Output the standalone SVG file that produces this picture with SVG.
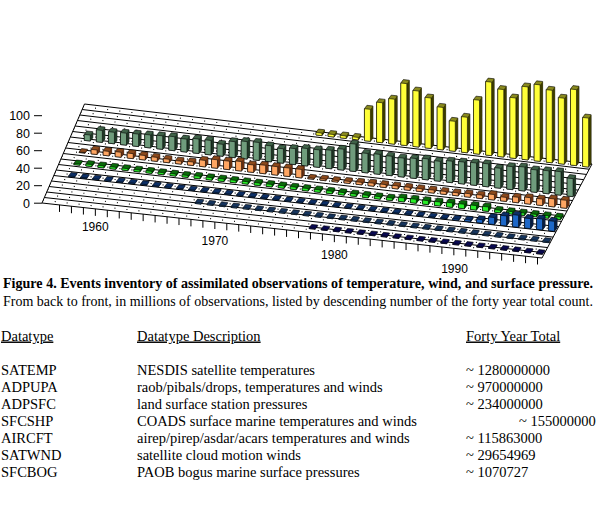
<svg xmlns="http://www.w3.org/2000/svg" width="600" height="517" viewBox="0 0 600 517">
<style>
.floor{fill:none;stroke:#000;stroke-width:1}
.dot{fill:none;stroke:#000;stroke-width:1.1;stroke-dasharray:2 21.9;stroke-dashoffset:.85}
.tick{fill:none;stroke:#000;stroke-width:1}
.ax{font-family:"Liberation Sans",Arial,sans-serif;font-size:12.5px;fill:#000;text-anchor:end}
.yr{font-family:"Liberation Sans",Arial,sans-serif;font-size:12px;fill:#000;text-anchor:middle}
.t{font-family:"Liberation Serif","Times New Roman",serif;font-size:14.5px;fill:#000}
.c{font-family:"Liberation Serif","Times New Roman",serif;font-size:14px;fill:#000}
.b{font-weight:bold}
.u{text-decoration:underline}
.s{stroke:#000;stroke-width:.6;stroke-linejoin:round}
.ys{fill:#8a8a1e}.yd{fill:#3c3c00}.yf{fill:#ffff38}
.gs{fill:#3f6248}.gd{fill:#1f3626}.gf{fill:#6f9c7c}
.os{fill:#8c4a1c}.od{fill:#6a3010}.of{fill:#ffa662}
.ns{fill:#0a6a0a}.nd{fill:#004000}.nf{fill:#28f028}
.as{fill:#0c2f66}.ad{fill:#081d42}.af{fill:#1e68c8}
.ws{fill:#16355e}.wf{fill:#3a74b0}
.bs{fill:#080850}.bf{fill:#2424a0}
</style>
<rect width="600" height="517" fill="#fff"/>
<g id="floor">
<path class="floor" d="M84.5,104L592,164M82.14,109.5L589.22,169.22M79.78,115L586.44,174.44M77.42,120.5L583.67,179.67M75.06,126L580.89,184.89M72.69,131.5L578.11,190.11M70.33,137L575.33,195.33M67.97,142.5L572.56,200.56M65.61,148L569.78,205.78M63.25,153.5L567,211M60.89,159L564.22,216.22M58.53,164.5L561.44,221.44M56.17,170L558.67,226.67M53.81,175.5L555.89,231.89M51.44,181L553.11,237.11M49.08,186.5L550.33,242.33M46.72,192L547.56,247.56M44.36,197.5L544.78,252.78M42,203L542,258M84.5,104L42,203M592,164L542,258"/>
<line class="dot" pathLength="1000" x1="83.32" y1="106.75" x2="590.61" y2="166.61"/>
<line class="dot" pathLength="1000" x1="80.96" y1="112.25" x2="587.83" y2="171.83"/>
<line class="dot" pathLength="1000" x1="78.6" y1="117.75" x2="585.06" y2="177.06"/>
<line class="dot" pathLength="1000" x1="76.24" y1="123.25" x2="582.28" y2="182.28"/>
<line class="dot" pathLength="1000" x1="73.88" y1="128.75" x2="579.5" y2="187.5"/>
<line class="dot" pathLength="1000" x1="71.51" y1="134.25" x2="576.72" y2="192.72"/>
<line class="dot" pathLength="1000" x1="69.15" y1="139.75" x2="573.94" y2="197.94"/>
<line class="dot" pathLength="1000" x1="66.79" y1="145.25" x2="571.17" y2="203.17"/>
<line class="dot" pathLength="1000" x1="64.43" y1="150.75" x2="568.39" y2="208.39"/>
<line class="dot" pathLength="1000" x1="62.07" y1="156.25" x2="565.61" y2="213.61"/>
<line class="dot" pathLength="1000" x1="59.71" y1="161.75" x2="562.83" y2="218.83"/>
<line class="dot" pathLength="1000" x1="57.35" y1="167.25" x2="560.06" y2="224.06"/>
<line class="dot" pathLength="1000" x1="54.99" y1="172.75" x2="557.28" y2="229.28"/>
<line class="dot" pathLength="1000" x1="52.63" y1="178.25" x2="554.5" y2="234.5"/>
<line class="dot" pathLength="1000" x1="50.26" y1="183.75" x2="551.72" y2="239.72"/>
<line class="dot" pathLength="1000" x1="47.9" y1="189.25" x2="548.94" y2="244.94"/>
<line class="dot" pathLength="1000" x1="45.54" y1="194.75" x2="546.17" y2="250.17"/>
<line class="dot" pathLength="1000" x1="43.18" y1="200.25" x2="543.39" y2="255.39"/>
<path class="tick" d="M59.5,204.93v7m11.95-5.686v7m11.95-5.686v7m11.95-5.686v7m11.95-5.686v7m11.95-5.686v7m11.95-5.686v7m11.95-5.686v7m11.95-5.686v7m11.95-5.686v7m11.95-5.686v7m11.95-5.686v7m11.95-5.686v7m11.95-5.686v7m11.95-5.686v7m11.95-5.686v7m11.95-5.686v7m11.95-5.686v7m11.95-5.686v7m11.95-5.686v7m11.95-5.686v7m11.95-5.686v7m11.95-5.686v7m11.95-5.686v7m11.95-5.686v7m11.95-5.686v7m11.95-5.686v7m11.95-5.686v7m11.95-5.686v7m11.95-5.686v7m11.95-5.686v7m11.95-5.686v7m11.95-5.686v7m11.95-5.686v7m11.95-5.686v7m11.95-5.686v7m11.95-5.686v7m11.95-5.686v7m11.95-5.686v7m11.95-5.686v7m11.95-5.686v7"/>
</g>
<g id="axis">
<path class="tick" d="M34,115.7h8M34,133.2h8M34,150.7h8M34,168.2h8M34,185.7h8M34,203.2h8"/>
<text class="ax" x="30" y="120.1">100</text>
<text class="ax" x="30" y="137.6">80</text>
<text class="ax" x="30" y="155.1">60</text>
<text class="ax" x="30" y="172.6">40</text>
<text class="ax" x="30" y="190.1">20</text>
<text class="ax" x="30" y="207.6">0</text>
<text class="yr" x="95.3" y="231">1960</text>
<text class="yr" x="214.9" y="245">1970</text>
<text class="yr" x="334.4" y="258.5">1980</text>
<text class="yr" x="454.5" y="273">1990</text>
</g>
<g id="bars">
<g id="SATEMP">
<path class="ys s" d="M315.97,134.99l6,.65 2.5-3.4v-2.5l-6-.65-2.5 3.4zm12.12,1.43l6,.65 2.5-3.4v-2.5l-6-.65-2.5 3.4zm12.12,1.43l6,.65 2.5-3.4v-2.5l-6-.65-2.5 3.4zm12.12,1.43l6,.65 2.5-3.4v-2.5l-6-.65-2.5 3.4zm12.12,1.43l6,.65 2.5-3.4v-32l-6-.65-2.5 3.4zm12.12,1.43l6,.65 2.5-3.4v-40l-6-.65-2.5 3.4zm12.12,1.43l6,.65 2.5-3.4v-45l-6-.65-2.5 3.4zm12.12,1.43l6,.65 2.5-3.4v-62l-6-.65-2.5 3.4zm12.12,1.43l6,.65 2.5-3.4v-56l-6-.65-2.5 3.4zm12.12,1.43l6,.65 2.5-3.4v-50.5l-6-.65-2.5 3.4zm12.12,1.43l6,.65 2.5-3.4v-42.5l-6-.65-2.5 3.4zm12.12,1.43l6,.65 2.5-3.4v-30l-6-.65-2.5 3.4zm12.12,1.43l6,.65 2.5-3.4v-35.5l-6-.65-2.5 3.4zm12.12,1.43l6,.65 2.5-3.4v-54l-6-.65-2.5 3.4zm12.12,1.43l6,.65 2.5-3.4v-73.5l-6-.65-2.5 3.4zm12.12,1.43l6,.65 2.5-3.4v-67.5l-6-.65-2.5 3.4zm12.12,1.43l6,.65 2.5-3.4v-60.5l-6-.65-2.5 3.4zm12.12,1.43l6,.65 2.5-3.4v-73l-6-.65-2.5 3.4zm12.12,1.43l6,.65 2.5-3.4v-76.5l-6-.65-2.5 3.4zm12.12,1.43l6,.65 2.5-3.4v-72.5l-6-.65-2.5 3.4zm12.12,1.43l6,.65 2.5-3.4v-66l-6-.65-2.5 3.4zm12.12,1.43l6,.65 2.5-3.4v-76l-6-.65-2.5 3.4zm12.12,1.43l6,.65 2.5-3.4v-49l-6-.65-2.5 3.4z"/>
<path class="yd" d="M321.97,135.64l2.5-3.4v-2.5l-2.5 3.4zm12.12,1.43l2.5-3.4v-2.5l-2.5 3.4zm12.12,1.43l2.5-3.4v-2.5l-2.5 3.4zm12.12,1.43l2.5-3.4v-2.5l-2.5 3.4zm12.12,1.43l2.5-3.4v-32l-2.5 3.4zm12.12,1.43l2.5-3.4v-40l-2.5 3.4zm12.12,1.43l2.5-3.4v-45l-2.5 3.4zm12.12,1.43l2.5-3.4v-62l-2.5 3.4zm12.12,1.43l2.5-3.4v-56l-2.5 3.4zm12.12,1.43l2.5-3.4v-50.5l-2.5 3.4zm12.12,1.43l2.5-3.4v-42.5l-2.5 3.4zm12.12,1.43l2.5-3.4v-30l-2.5 3.4zm12.12,1.43l2.5-3.4v-35.5l-2.5 3.4zm12.12,1.43l2.5-3.4v-54l-2.5 3.4zm12.12,1.43l2.5-3.4v-73.5l-2.5 3.4zm12.12,1.43l2.5-3.4v-67.5l-2.5 3.4zm12.12,1.43l2.5-3.4v-60.5l-2.5 3.4zm12.12,1.43l2.5-3.4v-73l-2.5 3.4zm12.12,1.43l2.5-3.4v-76.5l-2.5 3.4zm12.12,1.43l2.5-3.4v-72.5l-2.5 3.4zm12.12,1.43l2.5-3.4v-66l-2.5 3.4zm12.12,1.43l2.5-3.4v-76l-2.5 3.4zm12.12,1.43l2.5-3.4v-49l-2.5 3.4z"/>
<path class="yf s" d="M315.97,134.99l6,.65v-2.5l-6-.65zm12.12,1.43l6,.65v-2.5l-6-.65zm12.12,1.43l6,.65v-2.5l-6-.65zm12.12,1.43l6,.65v-2.5l-6-.65zm12.12,1.43l6,.65v-32l-6-.65zm12.12,1.43l6,.65v-40l-6-.65zm12.12,1.43l6,.65v-45l-6-.65zm12.12,1.43l6,.65v-62l-6-.65zm12.12,1.43l6,.65v-56l-6-.65zm12.12,1.43l6,.65v-50.5l-6-.65zm12.12,1.43l6,.65v-42.5l-6-.65zm12.12,1.43l6,.65v-30l-6-.65zm12.12,1.43l6,.65v-35.5l-6-.65zm12.12,1.43l6,.65v-54l-6-.65zm12.12,1.43l6,.65v-73.5l-6-.65zm12.12,1.43l6,.65v-67.5l-6-.65zm12.12,1.43l6,.65v-60.5l-6-.65zm12.12,1.43l6,.65v-73l-6-.65zm12.12,1.43l6,.65v-76.5l-6-.65zm12.12,1.43l6,.65v-72.5l-6-.65zm12.12,1.43l6,.65v-66l-6-.65zm12.12,1.43l6,.65v-76l-6-.65zm12.12,1.43l6,.65v-49l-6-.65z"/>
</g>
<g id="ADPUPA">
<path class="gs s" d="M84.3,140.39l6,.65 2.5-3.4v-6l-6-.65-2.5 3.4zm12.07,1.39l6,.65 2.5-3.4v-12l-6-.65-2.5 3.4zm12.07,1.39l6,.65 2.5-3.4v-11.5l-6-.65-2.5 3.4zm12.07,1.39l6,.65 2.5-3.4v-12l-6-.65-2.5 3.4zm12.07,1.39l6,.65 2.5-3.4v-12.5l-6-.65-2.5 3.4zm12.07,1.39l6,.65 2.5-3.4v-13l-6-.65-2.5 3.4zm12.07,1.39l6,.65 2.5-3.4v-13.5l-6-.65-2.5 3.4zm12.07,1.39l6,.65 2.5-3.4v-14l-6-.65-2.5 3.4zm12.07,1.39l6,.65 2.5-3.4v-13l-6-.65-2.5 3.4zm12.07,1.39l6,.65 2.5-3.4v-14.5l-6-.65-2.5 3.4zm12.07,1.39l6,.65 2.5-3.4v-14.5l-6-.65-2.5 3.4zm12.07,1.39l6,.65 2.5-3.4v-12l-6-.65-2.5 3.4zm12.07,1.39l6,.65 2.5-3.4v-16l-6-.65-2.5 3.4zm12.07,1.39l6,.65 2.5-3.4v-17.5l-6-.65-2.5 3.4zm12.07,1.39l6,.65 2.5-3.4v-18l-6-.65-2.5 3.4zm12.07,1.39l6,.65 2.5-3.4v-16l-6-.65-2.5 3.4zm12.07,1.39l6,.65 2.5-3.4v-14.5l-6-.65-2.5 3.4zm12.07,1.39l6,.65 2.5-3.4v-16l-6-.65-2.5 3.4zm12.07,1.39l6,.65 2.5-3.4v-17.5l-6-.65-2.5 3.4zm12.07,1.39l6,.65 2.5-3.4v-17.5l-6-.65-2.5 3.4zm12.07,1.39l6,.65 2.5-3.4v-18.5l-6-.65-2.5 3.4zm12.07,1.39l6,.65 2.5-3.4v-21l-6-.65-2.5 3.4zm12.07,1.39l6,.65 2.5-3.4v-27.5l-6-.65-2.5 3.4zm12.07,1.39l6,.65 2.5-3.4v-19.5l-6-.65-2.5 3.4zm12.07,1.39l6,.65 2.5-3.4v-20l-6-.65-2.5 3.4zm12.07,1.39l6,.65 2.5-3.4v-19.5l-6-.65-2.5 3.4zm12.07,1.39l6,.65 2.5-3.4v-19l-6-.65-2.5 3.4zm12.07,1.39l6,.65 2.5-3.4v-20l-6-.65-2.5 3.4zm12.07,1.39l6,.65 2.5-3.4v-21l-6-.65-2.5 3.4zm12.07,1.39l6,.65 2.5-3.4v-20l-6-.65-2.5 3.4zm12.07,1.39l6,.65 2.5-3.4v-21.5l-6-.65-2.5 3.4zm12.07,1.39l6,.65 2.5-3.4v-22l-6-.65-2.5 3.4zm12.07,1.39l6,.65 2.5-3.4v-22.5l-6-.65-2.5 3.4zm12.07,1.39l6,.65 2.5-3.4v-23l-6-.65-2.5 3.4zm12.07,1.39l6,.65 2.5-3.4v-20l-6-.65-2.5 3.4zm12.07,1.39l6,.65 2.5-3.4v-23l-6-.65-2.5 3.4zm12.07,1.39l6,.65 2.5-3.4v-24l-6-.65-2.5 3.4zm12.07,1.39l6,.65 2.5-3.4v-22.5l-6-.65-2.5 3.4zm12.07,1.39l6,.65 2.5-3.4v-23l-6-.65-2.5 3.4zm12.07,1.39l6,.65 2.5-3.4v-23.5l-6-.65-2.5 3.4zm12.07,1.39l6,.65 2.5-3.4v-18l-6-.65-2.5 3.4z"/>
<path class="gd" d="M90.3,141.04l2.5-3.4v-6l-2.5 3.4zm12.07,1.39l2.5-3.4v-12l-2.5 3.4zm12.07,1.39l2.5-3.4v-11.5l-2.5 3.4zm12.07,1.39l2.5-3.4v-12l-2.5 3.4zm12.07,1.39l2.5-3.4v-12.5l-2.5 3.4zm12.07,1.39l2.5-3.4v-13l-2.5 3.4zm12.07,1.39l2.5-3.4v-13.5l-2.5 3.4zm12.07,1.39l2.5-3.4v-14l-2.5 3.4zm12.07,1.39l2.5-3.4v-13l-2.5 3.4zm12.07,1.39l2.5-3.4v-14.5l-2.5 3.4zm12.07,1.39l2.5-3.4v-14.5l-2.5 3.4zm12.07,1.39l2.5-3.4v-12l-2.5 3.4zm12.07,1.39l2.5-3.4v-16l-2.5 3.4zm12.07,1.39l2.5-3.4v-17.5l-2.5 3.4zm12.07,1.39l2.5-3.4v-18l-2.5 3.4zm12.07,1.39l2.5-3.4v-16l-2.5 3.4zm12.07,1.39l2.5-3.4v-14.5l-2.5 3.4zm12.07,1.39l2.5-3.4v-16l-2.5 3.4zm12.07,1.39l2.5-3.4v-17.5l-2.5 3.4zm12.07,1.39l2.5-3.4v-17.5l-2.5 3.4zm12.07,1.39l2.5-3.4v-18.5l-2.5 3.4zm12.07,1.39l2.5-3.4v-21l-2.5 3.4zm12.07,1.39l2.5-3.4v-27.5l-2.5 3.4zm12.07,1.39l2.5-3.4v-19.5l-2.5 3.4zm12.07,1.39l2.5-3.4v-20l-2.5 3.4zm12.07,1.39l2.5-3.4v-19.5l-2.5 3.4zm12.07,1.39l2.5-3.4v-19l-2.5 3.4zm12.07,1.39l2.5-3.4v-20l-2.5 3.4zm12.07,1.39l2.5-3.4v-21l-2.5 3.4zm12.07,1.39l2.5-3.4v-20l-2.5 3.4zm12.07,1.39l2.5-3.4v-21.5l-2.5 3.4zm12.07,1.39l2.5-3.4v-22l-2.5 3.4zm12.07,1.39l2.5-3.4v-22.5l-2.5 3.4zm12.07,1.39l2.5-3.4v-23l-2.5 3.4zm12.07,1.39l2.5-3.4v-20l-2.5 3.4zm12.07,1.39l2.5-3.4v-23l-2.5 3.4zm12.07,1.39l2.5-3.4v-24l-2.5 3.4zm12.07,1.39l2.5-3.4v-22.5l-2.5 3.4zm12.07,1.39l2.5-3.4v-23l-2.5 3.4zm12.07,1.39l2.5-3.4v-23.5l-2.5 3.4zm12.07,1.39l2.5-3.4v-18l-2.5 3.4z"/>
<path class="gf s" d="M84.3,140.39l6,.65v-6l-6-.65zm12.07,1.39l6,.65v-12l-6-.65zm12.07,1.39l6,.65v-11.5l-6-.65zm12.07,1.39l6,.65v-12l-6-.65zm12.07,1.39l6,.65v-12.5l-6-.65zm12.07,1.39l6,.65v-13l-6-.65zm12.07,1.39l6,.65v-13.5l-6-.65zm12.07,1.39l6,.65v-14l-6-.65zm12.07,1.39l6,.65v-13l-6-.65zm12.07,1.39l6,.65v-14.5l-6-.65zm12.07,1.39l6,.65v-14.5l-6-.65zm12.07,1.39l6,.65v-12l-6-.65zm12.07,1.39l6,.65v-16l-6-.65zm12.07,1.39l6,.65v-17.5l-6-.65zm12.07,1.39l6,.65v-18l-6-.65zm12.07,1.39l6,.65v-16l-6-.65zm12.07,1.39l6,.65v-14.5l-6-.65zm12.07,1.39l6,.65v-16l-6-.65zm12.07,1.39l6,.65v-17.5l-6-.65zm12.07,1.39l6,.65v-17.5l-6-.65zm12.07,1.39l6,.65v-18.5l-6-.65zm12.07,1.39l6,.65v-21l-6-.65zm12.07,1.39l6,.65v-27.5l-6-.65zm12.07,1.39l6,.65v-19.5l-6-.65zm12.07,1.39l6,.65v-20l-6-.65zm12.07,1.39l6,.65v-19.5l-6-.65zm12.07,1.39l6,.65v-19l-6-.65zm12.07,1.39l6,.65v-20l-6-.65zm12.07,1.39l6,.65v-21l-6-.65zm12.07,1.39l6,.65v-20l-6-.65zm12.07,1.39l6,.65v-21.5l-6-.65zm12.07,1.39l6,.65v-22l-6-.65zm12.07,1.39l6,.65v-22.5l-6-.65zm12.07,1.39l6,.65v-23l-6-.65zm12.07,1.39l6,.65v-20l-6-.65zm12.07,1.39l6,.65v-23l-6-.65zm12.07,1.39l6,.65v-24l-6-.65zm12.07,1.39l6,.65v-22.5l-6-.65zm12.07,1.39l6,.65v-23l-6-.65zm12.07,1.39l6,.65v-23.5l-6-.65zm12.07,1.39l6,.65v-18l-6-.65z"/>
</g>
<g id="ADPSFC">
<path class="os s" d="M79.06,152.5l6,.65 2.5-3.4v-.5l-6-.65-2.5 3.4zm12.04,1.38l6,.65 2.5-3.4v-4.5l-6-.65-2.5 3.4zm12.04,1.38l6,.65 2.5-3.4v-4.5l-6-.65-2.5 3.4zm12.04,1.38l6,.65 2.5-3.4v-5l-6-.65-2.5 3.4zm12.04,1.38l6,.65 2.5-3.4v-5l-6-.65-2.5 3.4zm12.04,1.38l6,.65 2.5-3.4v-4.5l-6-.65-2.5 3.4zm12.04,1.38l6,.65 2.5-3.4v-4l-6-.65-2.5 3.4zm12.04,1.38l6,.65 2.5-3.4v-3.5l-6-.65-2.5 3.4zm12.04,1.38l6,.65 2.5-3.4v-3l-6-.65-2.5 3.4zm12.04,1.38l6,.65 2.5-3.4v-3.5l-6-.65-2.5 3.4zm12.04,1.38l6,.65 2.5-3.4v-6.5l-6-.65-2.5 3.4zm12.04,1.38l6,.65 2.5-3.4v-8.5l-6-.65-2.5 3.4zm12.04,1.38l6,.65 2.5-3.4v-8.5l-6-.65-2.5 3.4zm12.04,1.38l6,.65 2.5-3.4v-9.5l-6-.65-2.5 3.4zm12.04,1.38l6,.65 2.5-3.4v-7.5l-6-.65-2.5 3.4zm12.04,1.38l6,.65 2.5-3.4v-8.5l-6-.65-2.5 3.4zm12.04,1.38l6,.65 2.5-3.4v-8.5l-6-.65-2.5 3.4zm12.04,1.38l6,.65 2.5-3.4v-8.5l-6-.65-2.5 3.4zm12.04,1.38l6,.65 2.5-3.4v-8.5l-6-.65-2.5 3.4zm12.04,1.38l6,.65 2.5-3.4v-1l-6-.65-2.5 3.4zm12.04,1.38l6,.65 2.5-3.4v-1.5l-6-.65-2.5 3.4zm12.04,1.38l6,.65 2.5-3.4v-1.5l-6-.65-2.5 3.4zm12.04,1.38l6,.65 2.5-3.4v-2l-6-.65-2.5 3.4zm12.04,1.38l6,.65 2.5-3.4v-2.5l-6-.65-2.5 3.4zm12.04,1.38l6,.65 2.5-3.4v-3l-6-.65-2.5 3.4zm12.04,1.38l6,.65 2.5-3.4v-3l-6-.65-2.5 3.4zm12.04,1.38l6,.65 2.5-3.4v-3l-6-.65-2.5 3.4zm12.04,1.38l6,.65 2.5-3.4v-3l-6-.65-2.5 3.4zm12.04,1.38l6,.65 2.5-3.4v-3l-6-.65-2.5 3.4zm12.04,1.38l6,.65 2.5-3.4v-3l-6-.65-2.5 3.4zm12.04,1.38l6,.65 2.5-3.4v-3l-6-.65-2.5 3.4zm12.04,1.38l6,.65 2.5-3.4v-3l-6-.65-2.5 3.4zm12.04,1.38l6,.65 2.5-3.4v-3.5l-6-.65-2.5 3.4zm12.04,1.38l6,.65 2.5-3.4v-3.5l-6-.65-2.5 3.4zm12.04,1.38l6,.65 2.5-3.4v-5.5l-6-.65-2.5 3.4zm12.04,1.38l6,.65 2.5-3.4v-4l-6-.65-2.5 3.4zm12.04,1.38l6,.65 2.5-3.4v-5.5l-6-.65-2.5 3.4zm12.04,1.38l6,.65 2.5-3.4v-6.5l-6-.65-2.5 3.4zm12.04,1.38l6,.65 2.5-3.4v-6.5l-6-.65-2.5 3.4zm12.04,1.38l6,.65 2.5-3.4v-8l-6-.65-2.5 3.4zm12.04,1.38l6,.65 2.5-3.4v-8l-6-.65-2.5 3.4z"/>
<path class="od" d="M85.06,153.15l2.5-3.4v-.5l-2.5 3.4zm12.04,1.38l2.5-3.4v-4.5l-2.5 3.4zm12.04,1.38l2.5-3.4v-4.5l-2.5 3.4zm12.04,1.38l2.5-3.4v-5l-2.5 3.4zm12.04,1.38l2.5-3.4v-5l-2.5 3.4zm12.04,1.38l2.5-3.4v-4.5l-2.5 3.4zm12.04,1.38l2.5-3.4v-4l-2.5 3.4zm12.04,1.38l2.5-3.4v-3.5l-2.5 3.4zm12.04,1.38l2.5-3.4v-3l-2.5 3.4zm12.04,1.38l2.5-3.4v-3.5l-2.5 3.4zm12.04,1.38l2.5-3.4v-6.5l-2.5 3.4zm12.04,1.38l2.5-3.4v-8.5l-2.5 3.4zm12.04,1.38l2.5-3.4v-8.5l-2.5 3.4zm12.04,1.38l2.5-3.4v-9.5l-2.5 3.4zm12.04,1.38l2.5-3.4v-7.5l-2.5 3.4zm12.04,1.38l2.5-3.4v-8.5l-2.5 3.4zm12.04,1.38l2.5-3.4v-8.5l-2.5 3.4zm12.04,1.38l2.5-3.4v-8.5l-2.5 3.4zm12.04,1.38l2.5-3.4v-8.5l-2.5 3.4zm12.04,1.38l2.5-3.4v-1l-2.5 3.4zm12.04,1.38l2.5-3.4v-1.5l-2.5 3.4zm12.04,1.38l2.5-3.4v-1.5l-2.5 3.4zm12.04,1.38l2.5-3.4v-2l-2.5 3.4zm12.04,1.38l2.5-3.4v-2.5l-2.5 3.4zm12.04,1.38l2.5-3.4v-3l-2.5 3.4zm12.04,1.38l2.5-3.4v-3l-2.5 3.4zm12.04,1.38l2.5-3.4v-3l-2.5 3.4zm12.04,1.38l2.5-3.4v-3l-2.5 3.4zm12.04,1.38l2.5-3.4v-3l-2.5 3.4zm12.04,1.38l2.5-3.4v-3l-2.5 3.4zm12.04,1.38l2.5-3.4v-3l-2.5 3.4zm12.04,1.38l2.5-3.4v-3l-2.5 3.4zm12.04,1.38l2.5-3.4v-3.5l-2.5 3.4zm12.04,1.38l2.5-3.4v-3.5l-2.5 3.4zm12.04,1.38l2.5-3.4v-5.5l-2.5 3.4zm12.04,1.38l2.5-3.4v-4l-2.5 3.4zm12.04,1.38l2.5-3.4v-5.5l-2.5 3.4zm12.04,1.38l2.5-3.4v-6.5l-2.5 3.4zm12.04,1.38l2.5-3.4v-6.5l-2.5 3.4zm12.04,1.38l2.5-3.4v-8l-2.5 3.4zm12.04,1.38l2.5-3.4v-8l-2.5 3.4z"/>
<path class="of s" d="M79.06,152.5l6,.65v-.5l-6-.65zm12.04,1.38l6,.65v-4.5l-6-.65zm12.04,1.38l6,.65v-4.5l-6-.65zm12.04,1.38l6,.65v-5l-6-.65zm12.04,1.38l6,.65v-5l-6-.65zm12.04,1.38l6,.65v-4.5l-6-.65zm12.04,1.38l6,.65v-4l-6-.65zm12.04,1.38l6,.65v-3.5l-6-.65zm12.04,1.38l6,.65v-3l-6-.65zm12.04,1.38l6,.65v-3.5l-6-.65zm12.04,1.38l6,.65v-6.5l-6-.65zm12.04,1.38l6,.65v-8.5l-6-.65zm12.04,1.38l6,.65v-8.5l-6-.65zm12.04,1.38l6,.65v-9.5l-6-.65zm12.04,1.38l6,.65v-7.5l-6-.65zm12.04,1.38l6,.65v-8.5l-6-.65zm12.04,1.38l6,.65v-8.5l-6-.65zm12.04,1.38l6,.65v-8.5l-6-.65zm12.04,1.38l6,.65v-8.5l-6-.65zm12.04,1.38l6,.65v-1l-6-.65zm12.04,1.38l6,.65v-1.5l-6-.65zm12.04,1.38l6,.65v-1.5l-6-.65zm12.04,1.38l6,.65v-2l-6-.65zm12.04,1.38l6,.65v-2.5l-6-.65zm12.04,1.38l6,.65v-3l-6-.65zm12.04,1.38l6,.65v-3l-6-.65zm12.04,1.38l6,.65v-3l-6-.65zm12.04,1.38l6,.65v-3l-6-.65zm12.04,1.38l6,.65v-3l-6-.65zm12.04,1.38l6,.65v-3l-6-.65zm12.04,1.38l6,.65v-3l-6-.65zm12.04,1.38l6,.65v-3l-6-.65zm12.04,1.38l6,.65v-3.5l-6-.65zm12.04,1.38l6,.65v-3.5l-6-.65zm12.04,1.38l6,.65v-5.5l-6-.65zm12.04,1.38l6,.65v-4l-6-.65zm12.04,1.38l6,.65v-5.5l-6-.65zm12.04,1.38l6,.65v-6.5l-6-.65zm12.04,1.38l6,.65v-6.5l-6-.65zm12.04,1.38l6,.65v-8l-6-.65zm12.04,1.38l6,.65v-8l-6-.65z"/>
</g>
<g id="SFCSHP">
<path class="ns s" d="M73.82,164.6l6,.65 2.5-3.4v-1.2l-6-.65-2.5 3.4zm12.02,1.36l6,.65 2.5-3.4v-2l-6-.65-2.5 3.4zm12.02,1.36l6,.65 2.5-3.4v-2l-6-.65-2.5 3.4zm12.02,1.36l6,.65 2.5-3.4v-2l-6-.65-2.5 3.4zm12.02,1.36l6,.65 2.5-3.4v-2l-6-.65-2.5 3.4zm12.02,1.36l6,.65 2.5-3.4v-2l-6-.65-2.5 3.4zm12.02,1.36l6,.65 2.5-3.4v-2l-6-.65-2.5 3.4zm12.02,1.36l6,.65 2.5-3.4v-2l-6-.65-2.5 3.4zm12.02,1.36l6,.65 2.5-3.4v-2l-6-.65-2.5 3.4zm12.02,1.36l6,.65 2.5-3.4v-2l-6-.65-2.5 3.4zm12.02,1.36l6,.65 2.5-3.4v-2.5l-6-.65-2.5 3.4zm12.02,1.36l6,.65 2.5-3.4v-2.5l-6-.65-2.5 3.4zm12.02,1.36l6,.65 2.5-3.4v-2.5l-6-.65-2.5 3.4zm12.02,1.36l6,.65 2.5-3.4v-2.5l-6-.65-2.5 3.4zm12.02,1.36l6,.65 2.5-3.4v-2.5l-6-.65-2.5 3.4zm12.02,1.36l6,.65 2.5-3.4v-2.5l-6-.65-2.5 3.4zm12.02,1.36l6,.65 2.5-3.4v-2.5l-6-.65-2.5 3.4zm12.02,1.36l6,.65 2.5-3.4v-2.5l-6-.65-2.5 3.4zm12.02,1.36l6,.65 2.5-3.4v-2.5l-6-.65-2.5 3.4zm12.02,1.36l6,.65 2.5-3.4v-2.5l-6-.65-2.5 3.4zm12.02,1.36l6,.65 2.5-3.4v-2.5l-6-.65-2.5 3.4zm12.02,1.36l6,.65 2.5-3.4v-2.5l-6-.65-2.5 3.4zm12.02,1.36l6,.65 2.5-3.4v-2.5l-6-.65-2.5 3.4zm12.02,1.36l6,.65 2.5-3.4v-2.5l-6-.65-2.5 3.4zm12.02,1.36l6,.65 2.5-3.4v-2.5l-6-.65-2.5 3.4zm12.02,1.36l6,.65 2.5-3.4v-2.5l-6-.65-2.5 3.4zm12.02,1.36l6,.65 2.5-3.4v-2.5l-6-.65-2.5 3.4zm12.02,1.36l6,.65 2.5-3.4v-4l-6-.65-2.5 3.4zm12.02,1.36l6,.65 2.5-3.4v-4l-6-.65-2.5 3.4zm12.02,1.36l6,.65 2.5-3.4v-4l-6-.65-2.5 3.4zm12.02,1.36l6,.65 2.5-3.4v-4l-6-.65-2.5 3.4zm12.02,1.36l6,.65 2.5-3.4v-4.5l-6-.65-2.5 3.4zm12.02,1.36l6,.65 2.5-3.4v-4.5l-6-.65-2.5 3.4zm12.02,1.36l6,.65 2.5-3.4v-4.5l-6-.65-2.5 3.4zm12.02,1.36l6,.65 2.5-3.4v-4.5l-6-.65-2.5 3.4zm12.02,1.36l6,.65 2.5-3.4v-2.5l-6-.65-2.5 3.4zm12.02,1.36l6,.65 2.5-3.4v-2.5l-6-.65-2.5 3.4zm12.02,1.36l6,.65 2.5-3.4v-2.5l-6-.65-2.5 3.4zm12.02,1.36l6,.65 2.5-3.4v-2.5l-6-.65-2.5 3.4zm12.02,1.36l6,.65 2.5-3.4v-2.5l-6-.65-2.5 3.4zm12.02,1.36l6,.65 2.5-3.4v-2.5l-6-.65-2.5 3.4z"/>
<path class="nd" d="M79.82,165.25l2.5-3.4v-1.2l-2.5 3.4zm12.02,1.36l2.5-3.4v-2l-2.5 3.4zm12.02,1.36l2.5-3.4v-2l-2.5 3.4zm12.02,1.36l2.5-3.4v-2l-2.5 3.4zm12.02,1.36l2.5-3.4v-2l-2.5 3.4zm12.02,1.36l2.5-3.4v-2l-2.5 3.4zm12.02,1.36l2.5-3.4v-2l-2.5 3.4zm12.02,1.36l2.5-3.4v-2l-2.5 3.4zm12.02,1.36l2.5-3.4v-2l-2.5 3.4zm12.02,1.36l2.5-3.4v-2l-2.5 3.4zm12.02,1.36l2.5-3.4v-2.5l-2.5 3.4zm12.02,1.36l2.5-3.4v-2.5l-2.5 3.4zm12.02,1.36l2.5-3.4v-2.5l-2.5 3.4zm12.02,1.36l2.5-3.4v-2.5l-2.5 3.4zm12.02,1.36l2.5-3.4v-2.5l-2.5 3.4zm12.02,1.36l2.5-3.4v-2.5l-2.5 3.4zm12.02,1.36l2.5-3.4v-2.5l-2.5 3.4zm12.02,1.36l2.5-3.4v-2.5l-2.5 3.4zm12.02,1.36l2.5-3.4v-2.5l-2.5 3.4zm12.02,1.36l2.5-3.4v-2.5l-2.5 3.4zm12.02,1.36l2.5-3.4v-2.5l-2.5 3.4zm12.02,1.36l2.5-3.4v-2.5l-2.5 3.4zm12.02,1.36l2.5-3.4v-2.5l-2.5 3.4zm12.02,1.36l2.5-3.4v-2.5l-2.5 3.4zm12.02,1.36l2.5-3.4v-2.5l-2.5 3.4zm12.02,1.36l2.5-3.4v-2.5l-2.5 3.4zm12.02,1.36l2.5-3.4v-2.5l-2.5 3.4zm12.02,1.36l2.5-3.4v-4l-2.5 3.4zm12.02,1.36l2.5-3.4v-4l-2.5 3.4zm12.02,1.36l2.5-3.4v-4l-2.5 3.4zm12.02,1.36l2.5-3.4v-4l-2.5 3.4zm12.02,1.36l2.5-3.4v-4.5l-2.5 3.4zm12.02,1.36l2.5-3.4v-4.5l-2.5 3.4zm12.02,1.36l2.5-3.4v-4.5l-2.5 3.4zm12.02,1.36l2.5-3.4v-4.5l-2.5 3.4zm12.02,1.36l2.5-3.4v-2.5l-2.5 3.4zm12.02,1.36l2.5-3.4v-2.5l-2.5 3.4zm12.02,1.36l2.5-3.4v-2.5l-2.5 3.4zm12.02,1.36l2.5-3.4v-2.5l-2.5 3.4zm12.02,1.36l2.5-3.4v-2.5l-2.5 3.4zm12.02,1.36l2.5-3.4v-2.5l-2.5 3.4z"/>
<path class="nf s" d="M73.82,164.6l6,.65v-1.2l-6-.65zm12.02,1.36l6,.65v-2l-6-.65zm12.02,1.36l6,.65v-2l-6-.65zm12.02,1.36l6,.65v-2l-6-.65zm12.02,1.36l6,.65v-2l-6-.65zm12.02,1.36l6,.65v-2l-6-.65zm12.02,1.36l6,.65v-2l-6-.65zm12.02,1.36l6,.65v-2l-6-.65zm12.02,1.36l6,.65v-2l-6-.65zm12.02,1.36l6,.65v-2l-6-.65zm12.02,1.36l6,.65v-2.5l-6-.65zm12.02,1.36l6,.65v-2.5l-6-.65zm12.02,1.36l6,.65v-2.5l-6-.65zm12.02,1.36l6,.65v-2.5l-6-.65zm12.02,1.36l6,.65v-2.5l-6-.65zm12.02,1.36l6,.65v-2.5l-6-.65zm12.02,1.36l6,.65v-2.5l-6-.65zm12.02,1.36l6,.65v-2.5l-6-.65zm12.02,1.36l6,.65v-2.5l-6-.65zm12.02,1.36l6,.65v-2.5l-6-.65zm12.02,1.36l6,.65v-2.5l-6-.65zm12.02,1.36l6,.65v-2.5l-6-.65zm12.02,1.36l6,.65v-2.5l-6-.65zm12.02,1.36l6,.65v-2.5l-6-.65zm12.02,1.36l6,.65v-2.5l-6-.65zm12.02,1.36l6,.65v-2.5l-6-.65zm12.02,1.36l6,.65v-2.5l-6-.65zm12.02,1.36l6,.65v-4l-6-.65zm12.02,1.36l6,.65v-4l-6-.65zm12.02,1.36l6,.65v-4l-6-.65zm12.02,1.36l6,.65v-4l-6-.65zm12.02,1.36l6,.65v-4.5l-6-.65zm12.02,1.36l6,.65v-4.5l-6-.65zm12.02,1.36l6,.65v-4.5l-6-.65zm12.02,1.36l6,.65v-4.5l-6-.65zm12.02,1.36l6,.65v-2.5l-6-.65zm12.02,1.36l6,.65v-2.5l-6-.65zm12.02,1.36l6,.65v-2.5l-6-.65zm12.02,1.36l6,.65v-2.5l-6-.65zm12.02,1.36l6,.65v-2.5l-6-.65zm12.02,1.36l6,.65v-2.5l-6-.65z"/>
</g>
<g id="AIRCFT">
<path class="as s" d="M68.58,176.7l6,.65 2.5-3.4v-.8l-6-.65-2.5 3.4zm12,1.35l6,.65 2.5-3.4v-.8l-6-.65-2.5 3.4zm12,1.35l6,.65 2.5-3.4v-.8l-6-.65-2.5 3.4zm12,1.35l6,.65 2.5-3.4v-.8l-6-.65-2.5 3.4zm12,1.35l6,.65 2.5-3.4v-.8l-6-.65-2.5 3.4zm12,1.35l6,.65 2.5-3.4v-.8l-6-.65-2.5 3.4zm12,1.35l6,.65 2.5-3.4v-.8l-6-.65-2.5 3.4zm12,1.35l6,.65 2.5-3.4v-.8l-6-.65-2.5 3.4zm12,1.35l6,.65 2.5-3.4v-.8l-6-.65-2.5 3.4zm12,1.35l6,.65 2.5-3.4v-.8l-6-.65-2.5 3.4zm12,1.35l6,.65 2.5-3.4v-.8l-6-.65-2.5 3.4zm12,1.35l6,.65 2.5-3.4v-.8l-6-.65-2.5 3.4zm12,1.35l6,.65 2.5-3.4v-.8l-6-.65-2.5 3.4zm12,1.35l6,.65 2.5-3.4v-.8l-6-.65-2.5 3.4zm12,1.35l6,.65 2.5-3.4v-.8l-6-.65-2.5 3.4zm12,1.35l6,.65 2.5-3.4v-.8l-6-.65-2.5 3.4zm12,1.35l6,.65 2.5-3.4v-.8l-6-.65-2.5 3.4zm12,1.35l6,.65 2.5-3.4v-.8l-6-.65-2.5 3.4zm12,1.35l6,.65 2.5-3.4v-.8l-6-.65-2.5 3.4zm12,1.35l6,.65 2.5-3.4v-.8l-6-.65-2.5 3.4zm12,1.35l6,.65 2.5-3.4v-.8l-6-.65-2.5 3.4zm12,1.35l6,.65 2.5-3.4v-.8l-6-.65-2.5 3.4zm12,1.35l6,.65 2.5-3.4v-.8l-6-.65-2.5 3.4zm12,1.35l6,.65 2.5-3.4v-.8l-6-.65-2.5 3.4zm12,1.35l6,.65 2.5-3.4v-.8l-6-.65-2.5 3.4zm12,1.35l6,.65 2.5-3.4v-.8l-6-.65-2.5 3.4zm12,1.35l6,.65 2.5-3.4v-.8l-6-.65-2.5 3.4zm12,1.35l6,.65 2.5-3.4v-.8l-6-.65-2.5 3.4zm12,1.35l6,.65 2.5-3.4v-.8l-6-.65-2.5 3.4zm12,1.35l6,.65 2.5-3.4v-.8l-6-.65-2.5 3.4zm12,1.35l6,.65 2.5-3.4v-.8l-6-.65-2.5 3.4zm12,1.35l6,.65 2.5-3.4v-.8l-6-.65-2.5 3.4zm12,1.35l6,.65 2.5-3.4v-1.2l-6-.65-2.5 3.4zm12,1.35l6,.65 2.5-3.4v-1.8l-6-.65-2.5 3.4zm12,1.35l6,.65 2.5-3.4v-3.5l-6-.65-2.5 3.4zm12,1.35l6,.65 2.5-3.4v-7l-6-.65-2.5 3.4zm12,1.35l6,.65 2.5-3.4v-10l-6-.65-2.5 3.4zm12,1.35l6,.65 2.5-3.4v-12l-6-.65-2.5 3.4zm12,1.35l6,.65 2.5-3.4v-10l-6-.65-2.5 3.4zm12,1.35l6,.65 2.5-3.4v-11l-6-.65-2.5 3.4zm12,1.35l6,.65 2.5-3.4v-10l-6-.65-2.5 3.4z"/>
<path class="ad" d="M74.58,177.35l2.5-3.4v-.8l-2.5 3.4zm12,1.35l2.5-3.4v-.8l-2.5 3.4zm12,1.35l2.5-3.4v-.8l-2.5 3.4zm12,1.35l2.5-3.4v-.8l-2.5 3.4zm12,1.35l2.5-3.4v-.8l-2.5 3.4zm12,1.35l2.5-3.4v-.8l-2.5 3.4zm12,1.35l2.5-3.4v-.8l-2.5 3.4zm12,1.35l2.5-3.4v-.8l-2.5 3.4zm12,1.35l2.5-3.4v-.8l-2.5 3.4zm12,1.35l2.5-3.4v-.8l-2.5 3.4zm12,1.35l2.5-3.4v-.8l-2.5 3.4zm12,1.35l2.5-3.4v-.8l-2.5 3.4zm12,1.35l2.5-3.4v-.8l-2.5 3.4zm12,1.35l2.5-3.4v-.8l-2.5 3.4zm12,1.35l2.5-3.4v-.8l-2.5 3.4zm12,1.35l2.5-3.4v-.8l-2.5 3.4zm12,1.35l2.5-3.4v-.8l-2.5 3.4zm12,1.35l2.5-3.4v-.8l-2.5 3.4zm12,1.35l2.5-3.4v-.8l-2.5 3.4zm12,1.35l2.5-3.4v-.8l-2.5 3.4zm12,1.35l2.5-3.4v-.8l-2.5 3.4zm12,1.35l2.5-3.4v-.8l-2.5 3.4zm12,1.35l2.5-3.4v-.8l-2.5 3.4zm12,1.35l2.5-3.4v-.8l-2.5 3.4zm12,1.35l2.5-3.4v-.8l-2.5 3.4zm12,1.35l2.5-3.4v-.8l-2.5 3.4zm12,1.35l2.5-3.4v-.8l-2.5 3.4zm12,1.35l2.5-3.4v-.8l-2.5 3.4zm12,1.35l2.5-3.4v-.8l-2.5 3.4zm12,1.35l2.5-3.4v-.8l-2.5 3.4zm12,1.35l2.5-3.4v-.8l-2.5 3.4zm12,1.35l2.5-3.4v-.8l-2.5 3.4zm12,1.35l2.5-3.4v-1.2l-2.5 3.4zm12,1.35l2.5-3.4v-1.8l-2.5 3.4zm12,1.35l2.5-3.4v-3.5l-2.5 3.4zm12,1.35l2.5-3.4v-7l-2.5 3.4zm12,1.35l2.5-3.4v-10l-2.5 3.4zm12,1.35l2.5-3.4v-12l-2.5 3.4zm12,1.35l2.5-3.4v-10l-2.5 3.4zm12,1.35l2.5-3.4v-11l-2.5 3.4zm12,1.35l2.5-3.4v-10l-2.5 3.4z"/>
<path class="af s" d="M68.58,176.7l6,.65v-.8l-6-.65zm12,1.35l6,.65v-.8l-6-.65zm12,1.35l6,.65v-.8l-6-.65zm12,1.35l6,.65v-.8l-6-.65zm12,1.35l6,.65v-.8l-6-.65zm12,1.35l6,.65v-.8l-6-.65zm12,1.35l6,.65v-.8l-6-.65zm12,1.35l6,.65v-.8l-6-.65zm12,1.35l6,.65v-.8l-6-.65zm12,1.35l6,.65v-.8l-6-.65zm12,1.35l6,.65v-.8l-6-.65zm12,1.35l6,.65v-.8l-6-.65zm12,1.35l6,.65v-.8l-6-.65zm12,1.35l6,.65v-.8l-6-.65zm12,1.35l6,.65v-.8l-6-.65zm12,1.35l6,.65v-.8l-6-.65zm12,1.35l6,.65v-.8l-6-.65zm12,1.35l6,.65v-.8l-6-.65zm12,1.35l6,.65v-.8l-6-.65zm12,1.35l6,.65v-.8l-6-.65zm12,1.35l6,.65v-.8l-6-.65zm12,1.35l6,.65v-.8l-6-.65zm12,1.35l6,.65v-.8l-6-.65zm12,1.35l6,.65v-.8l-6-.65zm12,1.35l6,.65v-.8l-6-.65zm12,1.35l6,.65v-.8l-6-.65zm12,1.35l6,.65v-.8l-6-.65zm12,1.35l6,.65v-.8l-6-.65zm12,1.35l6,.65v-.8l-6-.65zm12,1.35l6,.65v-.8l-6-.65zm12,1.35l6,.65v-.8l-6-.65zm12,1.35l6,.65v-.8l-6-.65zm12,1.35l6,.65v-1.2l-6-.65zm12,1.35l6,.65v-1.8l-6-.65zm12,1.35l6,.65v-3.5l-6-.65zm12,1.35l6,.65v-7l-6-.65zm12,1.35l6,.65v-10l-6-.65zm12,1.35l6,.65v-12l-6-.65zm12,1.35l6,.65v-10l-6-.65zm12,1.35l6,.65v-11l-6-.65zm12,1.35l6,.65v-10l-6-.65z"/>
</g>
<g id="SATWND">
<path class="ws s" d="M195.11,203.48l6,.65 2.5-3.4v-1l-6-.65-2.5 3.4zm11.98,1.33l6,.65 2.5-3.4v-1l-6-.65-2.5 3.4zm11.98,1.33l6,.65 2.5-3.4v-1l-6-.65-2.5 3.4zm11.98,1.33l6,.65 2.5-3.4v-1l-6-.65-2.5 3.4zm11.98,1.33l6,.65 2.5-3.4v-1l-6-.65-2.5 3.4zm11.98,1.33l6,.65 2.5-3.4v-1l-6-.65-2.5 3.4zm11.98,1.33l6,.65 2.5-3.4v-1l-6-.65-2.5 3.4zm11.98,1.33l6,.65 2.5-3.4v-1l-6-.65-2.5 3.4zm11.98,1.33l6,.65 2.5-3.4v-1l-6-.65-2.5 3.4zm11.98,1.33l6,.65 2.5-3.4v-1l-6-.65-2.5 3.4zm11.98,1.33l6,.65 2.5-3.4v-1l-6-.65-2.5 3.4zm11.98,1.33l6,.65 2.5-3.4v-1l-6-.65-2.5 3.4zm11.98,1.33l6,.65 2.5-3.4v-1l-6-.65-2.5 3.4zm11.98,1.33l6,.65 2.5-3.4v-1l-6-.65-2.5 3.4zm11.98,1.33l6,.65 2.5-3.4v-1l-6-.65-2.5 3.4zm11.98,1.33l6,.65 2.5-3.4v-1l-6-.65-2.5 3.4zm11.98,1.33l6,.65 2.5-3.4v-1l-6-.65-2.5 3.4zm11.98,1.33l6,.65 2.5-3.4v-1l-6-.65-2.5 3.4zm11.98,1.33l6,.65 2.5-3.4v-1l-6-.65-2.5 3.4zm11.98,1.33l6,.65 2.5-3.4v-1l-6-.65-2.5 3.4zm11.98,1.33l6,.65 2.5-3.4v-1l-6-.65-2.5 3.4zm11.98,1.33l6,.65 2.5-3.4v-1l-6-.65-2.5 3.4zm11.98,1.33l6,.65 2.5-3.4v-1l-6-.65-2.5 3.4zm11.98,1.33l6,.65 2.5-3.4v-1l-6-.65-2.5 3.4zm11.98,1.33l6,.65 2.5-3.4v-1l-6-.65-2.5 3.4zm11.98,1.33l6,.65 2.5-3.4v-1l-6-.65-2.5 3.4zm11.98,1.33l6,.65 2.5-3.4v-1l-6-.65-2.5 3.4zm11.98,1.33l6,.65 2.5-3.4v-1l-6-.65-2.5 3.4zm11.98,1.33l6,.65 2.5-3.4v-1l-6-.65-2.5 3.4zm11.98,1.33l6,.65 2.5-3.4v-1l-6-.65-2.5 3.4z"/>
<path class="wf s" d="M195.11,203.48l6,.65v-1l-6-.65zm11.98,1.33l6,.65v-1l-6-.65zm11.98,1.33l6,.65v-1l-6-.65zm11.98,1.33l6,.65v-1l-6-.65zm11.98,1.33l6,.65v-1l-6-.65zm11.98,1.33l6,.65v-1l-6-.65zm11.98,1.33l6,.65v-1l-6-.65zm11.98,1.33l6,.65v-1l-6-.65zm11.98,1.33l6,.65v-1l-6-.65zm11.98,1.33l6,.65v-1l-6-.65zm11.98,1.33l6,.65v-1l-6-.65zm11.98,1.33l6,.65v-1l-6-.65zm11.98,1.33l6,.65v-1l-6-.65zm11.98,1.33l6,.65v-1l-6-.65zm11.98,1.33l6,.65v-1l-6-.65zm11.98,1.33l6,.65v-1l-6-.65zm11.98,1.33l6,.65v-1l-6-.65zm11.98,1.33l6,.65v-1l-6-.65zm11.98,1.33l6,.65v-1l-6-.65zm11.98,1.33l6,.65v-1l-6-.65zm11.98,1.33l6,.65v-1l-6-.65zm11.98,1.33l6,.65v-1l-6-.65zm11.98,1.33l6,.65v-1l-6-.65zm11.98,1.33l6,.65v-1l-6-.65zm11.98,1.33l6,.65v-1l-6-.65zm11.98,1.33l6,.65v-1l-6-.65zm11.98,1.33l6,.65v-1l-6-.65zm11.98,1.33l6,.65v-1l-6-.65zm11.98,1.33l6,.65v-1l-6-.65zm11.98,1.33l6,.65v-1l-6-.65z"/>
</g>
<g id="SFCBOG">
<path class="bs s" d="M309.19,228.62l6,.65 2.5-3.4v-.8l-6-.65-2.5 3.4zm11.96,1.32l6,.65 2.5-3.4v-.8l-6-.65-2.5 3.4zm11.96,1.32l6,.65 2.5-3.4v-.8l-6-.65-2.5 3.4zm11.96,1.32l6,.65 2.5-3.4v-.8l-6-.65-2.5 3.4zm11.96,1.32l6,.65 2.5-3.4v-.8l-6-.65-2.5 3.4zm11.96,1.32l6,.65 2.5-3.4v-.8l-6-.65-2.5 3.4zm11.96,1.32l6,.65 2.5-3.4v-.8l-6-.65-2.5 3.4zm11.96,1.32l6,.65 2.5-3.4v-.8l-6-.65-2.5 3.4zm11.96,1.32l6,.65 2.5-3.4v-.8l-6-.65-2.5 3.4zm11.96,1.32l6,.65 2.5-3.4v-.8l-6-.65-2.5 3.4zm11.96,1.32l6,.65 2.5-3.4v-.8l-6-.65-2.5 3.4zm11.96,1.32l6,.65 2.5-3.4v-.8l-6-.65-2.5 3.4zm11.96,1.32l6,.65 2.5-3.4v-.8l-6-.65-2.5 3.4zm11.96,1.32l6,.65 2.5-3.4v-.8l-6-.65-2.5 3.4zm11.96,1.32l6,.65 2.5-3.4v-.8l-6-.65-2.5 3.4zm11.96,1.32l6,.65 2.5-3.4v-.8l-6-.65-2.5 3.4zm11.96,1.32l6,.65 2.5-3.4v-.8l-6-.65-2.5 3.4zm11.96,1.32l6,.65 2.5-3.4v-.8l-6-.65-2.5 3.4zm11.96,1.32l6,.65 2.5-3.4v-.8l-6-.65-2.5 3.4zm11.96,1.32l6,.65 2.5-3.4v-.8l-6-.65-2.5 3.4z"/>
<path class="bf s" d="M309.19,228.62l6,.65v-.8l-6-.65zm11.96,1.32l6,.65v-.8l-6-.65zm11.96,1.32l6,.65v-.8l-6-.65zm11.96,1.32l6,.65v-.8l-6-.65zm11.96,1.32l6,.65v-.8l-6-.65zm11.96,1.32l6,.65v-.8l-6-.65zm11.96,1.32l6,.65v-.8l-6-.65zm11.96,1.32l6,.65v-.8l-6-.65zm11.96,1.32l6,.65v-.8l-6-.65zm11.96,1.32l6,.65v-.8l-6-.65zm11.96,1.32l6,.65v-.8l-6-.65zm11.96,1.32l6,.65v-.8l-6-.65zm11.96,1.32l6,.65v-.8l-6-.65zm11.96,1.32l6,.65v-.8l-6-.65zm11.96,1.32l6,.65v-.8l-6-.65zm11.96,1.32l6,.65v-.8l-6-.65zm11.96,1.32l6,.65v-.8l-6-.65zm11.96,1.32l6,.65v-.8l-6-.65zm11.96,1.32l6,.65v-.8l-6-.65zm11.96,1.32l6,.65v-.8l-6-.65z"/>
</g>
</g>
<g id="caption">
<text class="c b" x="3" y="288" textLength="590" lengthAdjust="spacingAndGlyphs">Figure 4. Events inventory of assimilated observations of temperature, wind, and surface pressure.</text>
<text class="c" x="3" y="306" textLength="590" lengthAdjust="spacingAndGlyphs">From back to front, in millions of observations, listed by descending number of the forty year total count.</text>
</g>
<g id="table">
<text class="t u" x="1" y="340.5">Datatype</text>
<text class="t u" x="137" y="340.5">Datatype Description</text>
<text class="t u" x="466" y="340.5">Forty Year Total</text>
<text class="t" x="1" y="374.5">SATEMP</text>
<text class="t" x="137" y="374.5">NESDIS satellite temperatures</text>
<text class="t" x="466" y="374.5">~ 1280000000</text>
<text class="t" x="1" y="391.5">ADPUPA</text>
<text class="t" x="137" y="391.5">raob/pibals/drops, temperatures and winds</text>
<text class="t" x="466" y="391.5">~ 970000000</text>
<text class="t" x="1" y="408.5">ADPSFC</text>
<text class="t" x="137" y="408.5">land surface station pressures</text>
<text class="t" x="466" y="408.5">~ 234000000</text>
<text class="t" x="1" y="425.5">SFCSHP</text>
<text class="t" x="137" y="425.5">COADS surface marine temperatures and winds</text>
<text class="t" x="519" y="425.5">~ 155000000</text>
<text class="t" x="1" y="442.5">AIRCFT</text>
<text class="t" x="137" y="442.5">airep/pirep/asdar/acars temperatures and winds</text>
<text class="t" x="466" y="442.5">~ 115863000</text>
<text class="t" x="1" y="459.5">SATWND</text>
<text class="t" x="137" y="459.5">satellite cloud motion winds</text>
<text class="t" x="466" y="459.5">~ 29654969</text>
<text class="t" x="1" y="476.5">SFCBOG</text>
<text class="t" x="137" y="476.5">PAOB bogus marine surface pressures</text>
<text class="t" x="466" y="476.5">~ 1070727</text>
</g>
</svg>
